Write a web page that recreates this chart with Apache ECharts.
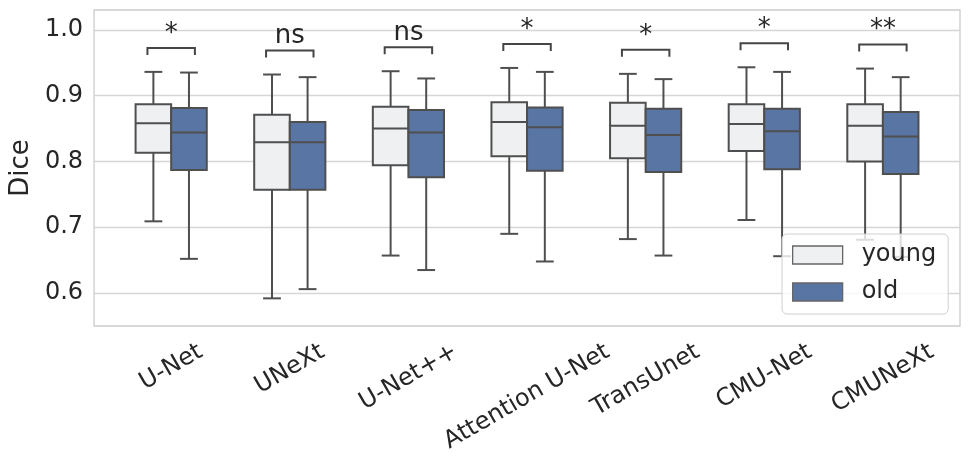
<!DOCTYPE html>
<html><head><meta charset="utf-8">
<script src="https://cdn.jsdelivr.net/npm/echarts@6/dist/echarts.min.js"></script>
<style>html,body{margin:0;padding:0;background:#fff}#c{width:970px;height:466px}</style>
</head><body><div id="c"></div>
<script>
// ---------- data ----------
const models = ['U-Net', 'UNeXt', 'U-Net++', 'Attention U-Net', 'TransUnet', 'CMU-Net', 'CMUNeXt'];
const groups = ['young', 'old'];
const yTicks = [0.6, 0.7, 0.8, 0.9, 1.0];
const significance = ['*', 'ns', 'ns', '*', '*', '*', '**'];

const youngMin    = [0.709, 0.592, 0.657, 0.690, 0.682, 0.711, 0.681];
const youngQ1     = [0.813, 0.757, 0.794, 0.808, 0.805, 0.816, 0.800];
const youngMedian = [0.858, 0.829, 0.850, 0.860, 0.854, 0.857, 0.854];
const youngQ3     = [0.887, 0.871, 0.883, 0.890, 0.889, 0.887, 0.887];
const youngMax    = [0.936, 0.932, 0.937, 0.942, 0.933, 0.943, 0.941];

const oldMin    = [0.652, 0.606, 0.635, 0.648, 0.657, 0.656, 0.655];
const oldQ1     = [0.787, 0.757, 0.776, 0.786, 0.784, 0.788, 0.781];
const oldMedian = [0.844, 0.829, 0.844, 0.852, 0.840, 0.846, 0.838];
const oldQ3     = [0.881, 0.860, 0.878, 0.882, 0.880, 0.880, 0.875];
const oldMax    = [0.935, 0.928, 0.926, 0.936, 0.925, 0.936, 0.928];

// ---------- style ----------
const FONT = '"DejaVu Sans", sans-serif';
const TEXT = '#262626';
const LINE = '#4f4f4f';
const YOUNG_FILL = '#eff0f1';
const OLD_FILL = '#5975a4';
const Y_MIN = 0.55, Y_MAX = 1.03;
const BOX_W = 0.3;
const TICK_FONT = 24;

const chart = echarts.init(document.getElementById('c'), null, { renderer: 'canvas' });

function boxSeries(name, mins, q1s, meds, q3s, maxs, side, fill) {
  return {
    name: name,
    type: 'custom',
    z: 3,
    itemStyle: { color: fill, borderColor: LINE, borderWidth: 2 },
    encode: { x: 0, y: [1, 2, 3, 4, 5] },
    data: models.map((m, i) => [i, mins[i], q1s[i], meds[i], q3s[i], maxs[i]]),
    renderItem: function (params, api) {
      const i = api.value(0);
      const c = i + side * BOX_W / 2;
      const left = api.coord([c - BOX_W / 2, api.value(3)])[0];
      const right = api.coord([c + BOX_W / 2, api.value(3)])[0];
      const cx = api.coord([c, api.value(3)])[0];
      const capL = api.coord([c - BOX_W / 4, api.value(3)])[0];
      const capR = api.coord([c + BOX_W / 4, api.value(3)])[0];
      const yMin = api.coord([c, api.value(1)])[1];
      const yQ1 = api.coord([c, api.value(2)])[1];
      const yMed = api.coord([c, api.value(3)])[1];
      const yQ3 = api.coord([c, api.value(4)])[1];
      const yMax = api.coord([c, api.value(5)])[1];
      const ls = { stroke: LINE, lineWidth: 2 };
      return {
        type: 'group',
        children: [
          { type: 'line', shape: { x1: cx, y1: yQ3, x2: cx, y2: yMax }, style: ls },
          { type: 'line', shape: { x1: cx, y1: yQ1, x2: cx, y2: yMin }, style: ls },
          { type: 'line', shape: { x1: capL, y1: yMax, x2: capR, y2: yMax }, style: ls },
          { type: 'line', shape: { x1: capL, y1: yMin, x2: capR, y2: yMin }, style: ls },
          { type: 'rect', shape: { x: left, y: yQ3, width: right - left, height: yQ1 - yQ3 },
            style: { fill: fill, stroke: LINE, lineWidth: 2 } },
          { type: 'line', shape: { x1: left, y1: yMed, x2: right, y2: yMed }, style: ls }
        ]
      };
    }
  };
}

// text measurement for matplotlib-like centred rotated tick labels
const mctx = document.createElement('canvas').getContext('2d');
mctx.font = TICK_FONT + 'px ' + FONT;

const labelSeries = {
  type: 'custom',
  name: '__labels',
  silent: true,
  z: 5,
  data: models.map((m, i) => [i, Y_MIN]),
  renderItem: function (params, api) {
    const i = api.value(0);
    const p = api.coord([i, api.value(1)]);
    const th = Math.PI / 6;
    const w = mctx.measureText(models[i]).width;
    const h = TICK_FONT * 1.16;
    const halfH = (w * Math.sin(th) + h * Math.cos(th)) / 2;
    return {
      type: 'text',
      x: p[0],
      y: p[1] + 12 + halfH,
      rotation: th,
      style: { text: models[i], font: TICK_FONT + 'px ' + FONT, fill: TEXT, align: 'center', verticalAlign: 'middle' }
    };
  }
};

const sigSeries = {
  type: 'custom',
  name: '__sig',
  silent: true,
  z: 5,
  data: models.map((m, i) => [i, Math.max(youngMax[i], oldMax[i])]),
  renderItem: function (params, api) {
    const i = api.value(0);
    const top = api.coord([i, api.value(1)])[1];
    const yb = top - 24;
    const xl = api.coord([i - 0.2, api.value(1)])[0];
    const xr = api.coord([i + 0.2, api.value(1)])[0];
    return {
      type: 'group',
      children: [
        { type: 'polyline', shape: { points: [[xl, yb + 7], [xl, yb], [xr, yb], [xr, yb + 7]] },
          style: { stroke: '#454545', lineWidth: 2, fill: null } },
        { type: 'text', x: (xl + xr) / 2, y: yb - 1,
          style: { text: significance[i], font: '26px ' + FONT, fill: TEXT, align: 'center', verticalAlign: 'bottom' } }
      ]
    };
  }
};

chart.setOption({
  animation: false,
  backgroundColor: '#ffffff',
  grid: { left: 92, right: 10, top: 10, bottom: 140, show: true, borderColor: '#cccccc', borderWidth: 1.3, backgroundColor: 'transparent' },
  xAxis: {
    type: 'value', min: -0.65, max: 6.65,
    axisLine: { show: false }, axisTick: { show: false }, axisLabel: { show: false }, splitLine: { show: false }
  },
  yAxis: {
    type: 'value', min: Y_MIN, max: Y_MAX,
    axisLine: { show: false },
    axisTick: { show: false, customValues: yTicks },
    axisLabel: { customValues: yTicks, fontSize: TICK_FONT, color: TEXT, fontFamily: FONT, margin: 11,
      formatter: v => v.toFixed(1) },
    splitLine: { show: true, lineStyle: { color: '#d6d6d6', width: 1.3 } },
    name: 'Dice', nameLocation: 'middle', nameGap: 58,
    nameTextStyle: { fontSize: 26, color: TEXT, fontFamily: FONT }
  },
  legend: {
    data: groups,
    orient: 'vertical',
    left: 782, top: 234,
    icon: 'rect',
    itemWidth: 50, itemHeight: 18, itemGap: 13,
    padding: [9, 12, 10, 10],
    backgroundColor: 'rgba(255,255,255,0.8)',
    borderColor: '#d0d0d0', borderWidth: 1, borderRadius: 5,
    itemStyle: { borderColor: '#666666', borderWidth: 1.3 },
    textStyle: { fontSize: 24, lineHeight: 24, color: TEXT, fontFamily: FONT, padding: [0, 0, 0, 14] }
  },
  series: [
    boxSeries('young', youngMin, youngQ1, youngMedian, youngQ3, youngMax, -1, YOUNG_FILL),
    boxSeries('old', oldMin, oldQ1, oldMedian, oldQ3, oldMax, 1, OLD_FILL),
    labelSeries,
    sigSeries
  ]
});
</script>
</body></html>
